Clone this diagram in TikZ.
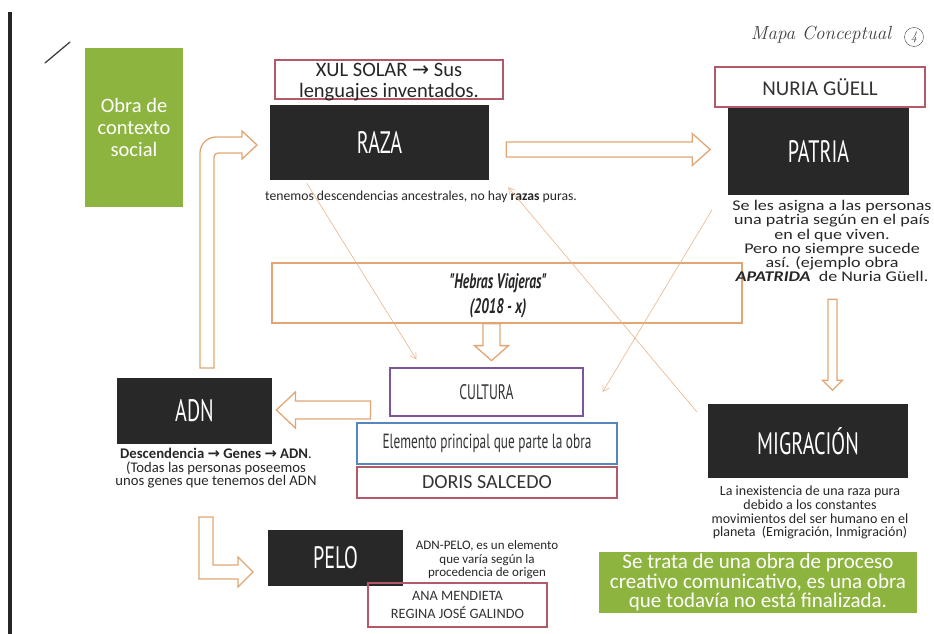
\documentclass[tikz,border=0pt]{standalone}
\usepackage{fontspec}
\newfontfamily\calibri{Carlito}
\newfontfamily\calibriwide[FakeStretch=1.22]{Carlito}
\newfontfamily\agency[FakeStretch=0.65]{PT Sans}
\newfontfamily\symb{DejaVu Sans}
\usetikzlibrary{calc}
\usetikzlibrary{positioning}
\usetikzlibrary{arrows.meta}
\definecolor[named]{MapBlack}{RGB}{40,40,40}
\definecolor[named]{MapRed}{RGB}{178,90,106}
\definecolor[named]{MapOrange}{RGB}{226,166,116}
\definecolor[named]{MapThread}{RGB}{232,180,138}
\definecolor[named]{MapPurple}{RGB}{124,86,152}
\definecolor[named]{MapBlue}{RGB}{86,134,190}
\definecolor[named]{MapGreen}{RGB}{142,180,64}
\newcommand{\sz}[2]{\fontsize{#1}{#2}\selectfont}
\newcommand{\ra}{{\symb →}}
\tikzset{
  darkbox/.style={fill=MapBlack, text=white, font=\agency\sz{31}{31}, inner sep=0pt},
  linebox/.style={draw=#1, line width=1.2pt, inner sep=0pt, text=black!80},
  greenbox/.style={fill=MapGreen, text=white, align=center, inner sep=0pt},
  note/.style={align=center, text=black!85, inner sep=0pt},
  hollow/.style={draw=MapOrange, line width=1.3pt, fill=white, line join=miter},
  thread/.style={draw=MapThread, line width=0.6pt, -{Straight Barb[length=6pt,width=7pt]}},
  pics/hollowarrow/.style n args={4}{code={
    \draw[hollow] (0,-#2) -- (#1,-#2) -- (#1,-#3) -- (#1+#4,0)
                  -- (#1,#3) -- (#1,#2) -- (0,#2) -- cycle;
  }}
}
\begin{document}
\begin{tikzpicture}[x=1pt,y=-1pt]
        \useasboundingbox (0,0) rectangle (934,634);
        \fill[black!85] (8,12) rectangle (12,634);
        \draw[black!75, line width=1.3pt, line cap=round] (45,63) -- (70,42);
        \node[font=\itshape\sz{19}{19}, text=black!75] (mapa) at (821,35) {Mapa Conceptual};
        \node[circle, draw=black!75, minimum size=19, inner sep=0pt,
              font=\itshape\sz{13}{13}, text=black!75] (num) at (914,37) {4};
        % green notes
        \node[greenbox, minimum width=98, minimum height=159, font=\calibri\sz{20.5}{22}]
             (obra) at (134,127.5) {Obra de\\contexto\\social};
        \node[greenbox, minimum width=318, minimum height=61, font=\calibri\sz{21}{19.5}]
             (proceso) at (758,582.5) {Se trata de una obra de proceso\\creativo comunicativo, es una obra\\que todavía no está finalizada.};
        % concepts
        \begin{scope}[every node/.append style={darkbox}]
          \node[minimum width=219, minimum height=75] (raza) at (379.5,142.5) {RAZA};
          \node[minimum width=181, minimum height=87] (patria) at (818.5,151.5) {PATRIA};
          \node[minimum width=155, minimum height=66] (adn) at (194.5,411) {ADN};
          \node[minimum width=135, minimum height=56] (pelo) at (335.5,558) {PELO};
          \node[minimum width=200, minimum height=74] (migracion) at (808,441) {MIGRACIÓN};
        \end{scope}
        % artists and boxes
        \node[linebox=MapRed, minimum width=228, minimum height=39] (xul) at (389,79.5) {};
        \node[note, font=\calibri\sz{20.5}{21}] (xultext) at ($(xul.center)+(0,3)$)
             {XUL SOLAR \ra{} Sus\\lenguajes inventados.};
        \node[linebox=MapRed, minimum width=210, minimum height=40, font=\calibri\sz{21}{21}]
             (nuria) at (820,87) {NURIA GÜELL};
        \node[linebox=MapOrange, minimum width=470, minimum height=60] (hebras) at (507,293) {};
        \node[note, font=\agency\bfseries\itshape\sz{21}{25}] (hebrastext) at (498,295.5)
             {"Hebras Viajeras"\\(2018 - x)};
        \node[linebox=MapPurple, minimum width=193, minimum height=48, font=\agency\sz{21}{21}]
             (cultura) at (486.5,392) {CULTURA};
        \node[linebox=MapBlue, minimum width=260, minimum height=41, font=\agency\sz{20.5}{21}]
             (elemento) at (487,443.5) {Elemento principal que parte la obra};
        \node[linebox=MapRed, minimum width=260, minimum height=31, font=\calibri\sz{20}{20}]
             (doris) at (487,482.5) {DORIS SALCEDO};
        \node[linebox=MapRed, minimum width=179, minimum height=44, align=center,
              font=\calibri\sz{14.3}{18}] (ana) at (457.5,605) {ANA MENDIETA\\REGINA JOSÉ GALINDO};
        % notes under the concepts
        \node[note, font=\calibri\sz{13.7}{15}] (razanote) at (421,197)
             {tenemos descendencias ancestrales, no hay \textbf{razas} puras.};
        \node[note, font=\calibriwide\sz{14.8}{14.1}] (patrianote) at (832,241)
             {Se les asigna a las personas\\una patria según en el país\\en el que viven.\\Pero no siempre sucede\\así. (ejemplo obra\\\textbf{\textit{APATRIDA}}\ \ de Nuria Güell.};
        \node[note, font=\calibri\sz{14.7}{13.5}] (adnnote) at (216,468.5)
             {\textbf{Descendencia \ra{} Genes \ra{} ADN}.\\(Todas las personas poseemos\\unos genes que tenemos del ADN};
        \node[note, font=\calibri\sz{13}{13.5}] (pelonote) at (487,560)
             {ADN-PELO, es un elemento\\que varía según la\\procedencia de origen};
        \node[note, font=\calibri\sz{14}{13.7}] (migracionnote) at (810,512.5)
             {La inexistencia de una raza pura\\debido a los constantes\\movimientos del ser humano en el\\planeta\ \ (Emigración, Inmigración)};
        % hollow arrows
        \pic at ($(raza.east)+(17,7)$) {hollowarrow={186}{7.5}{16}{18}};
        \pic[rotate=-90] at ($(hebras.south)+(-15.5,0)$) {hollowarrow={22}{8.5}{17}{15}};
        \pic[rotate=180] at ($(cultura.west)+(-19,18)$) {hollowarrow={75}{9}{18}{19}};
        \pic[rotate=-90] at ($(patria.south)+(14,104)$) {hollowarrow={81}{4.5}{10}{10}};
        \draw[hollow] (200,368) [rounded corners=16] -- (200,137) [sharp corners] -- (242,137)
             -- (242,131) -- (257,145) -- (242,159) -- (242,153) [rounded corners=4] -- (214,153)
             [sharp corners] -- (214,368) -- cycle;
        \draw[hollow] (199,517) -- (199,579) -- (238,579) -- (238,587) -- (253,572)
             -- (238,557) -- (238,565) -- (213,565) -- (213,517) -- cycle;
        % threads
        \coordinate (t1) at ($(raza.south west)+(37,3)$);
        \coordinate (t2) at ($(migracion.north west)+(-11,8)$);
        \coordinate (t3) at ($(patria.south west)+(-16,15)$);
        \draw[thread] (t1) -- ($(cultura.north west)+(27,-8)$);
        \draw[thread] (t2) -- ($(raza.south east)+(19,7)$);
        \draw[thread] (t3) -- ($(cultura.east)+(19,0)$);
\end{tikzpicture}
\end{document}
